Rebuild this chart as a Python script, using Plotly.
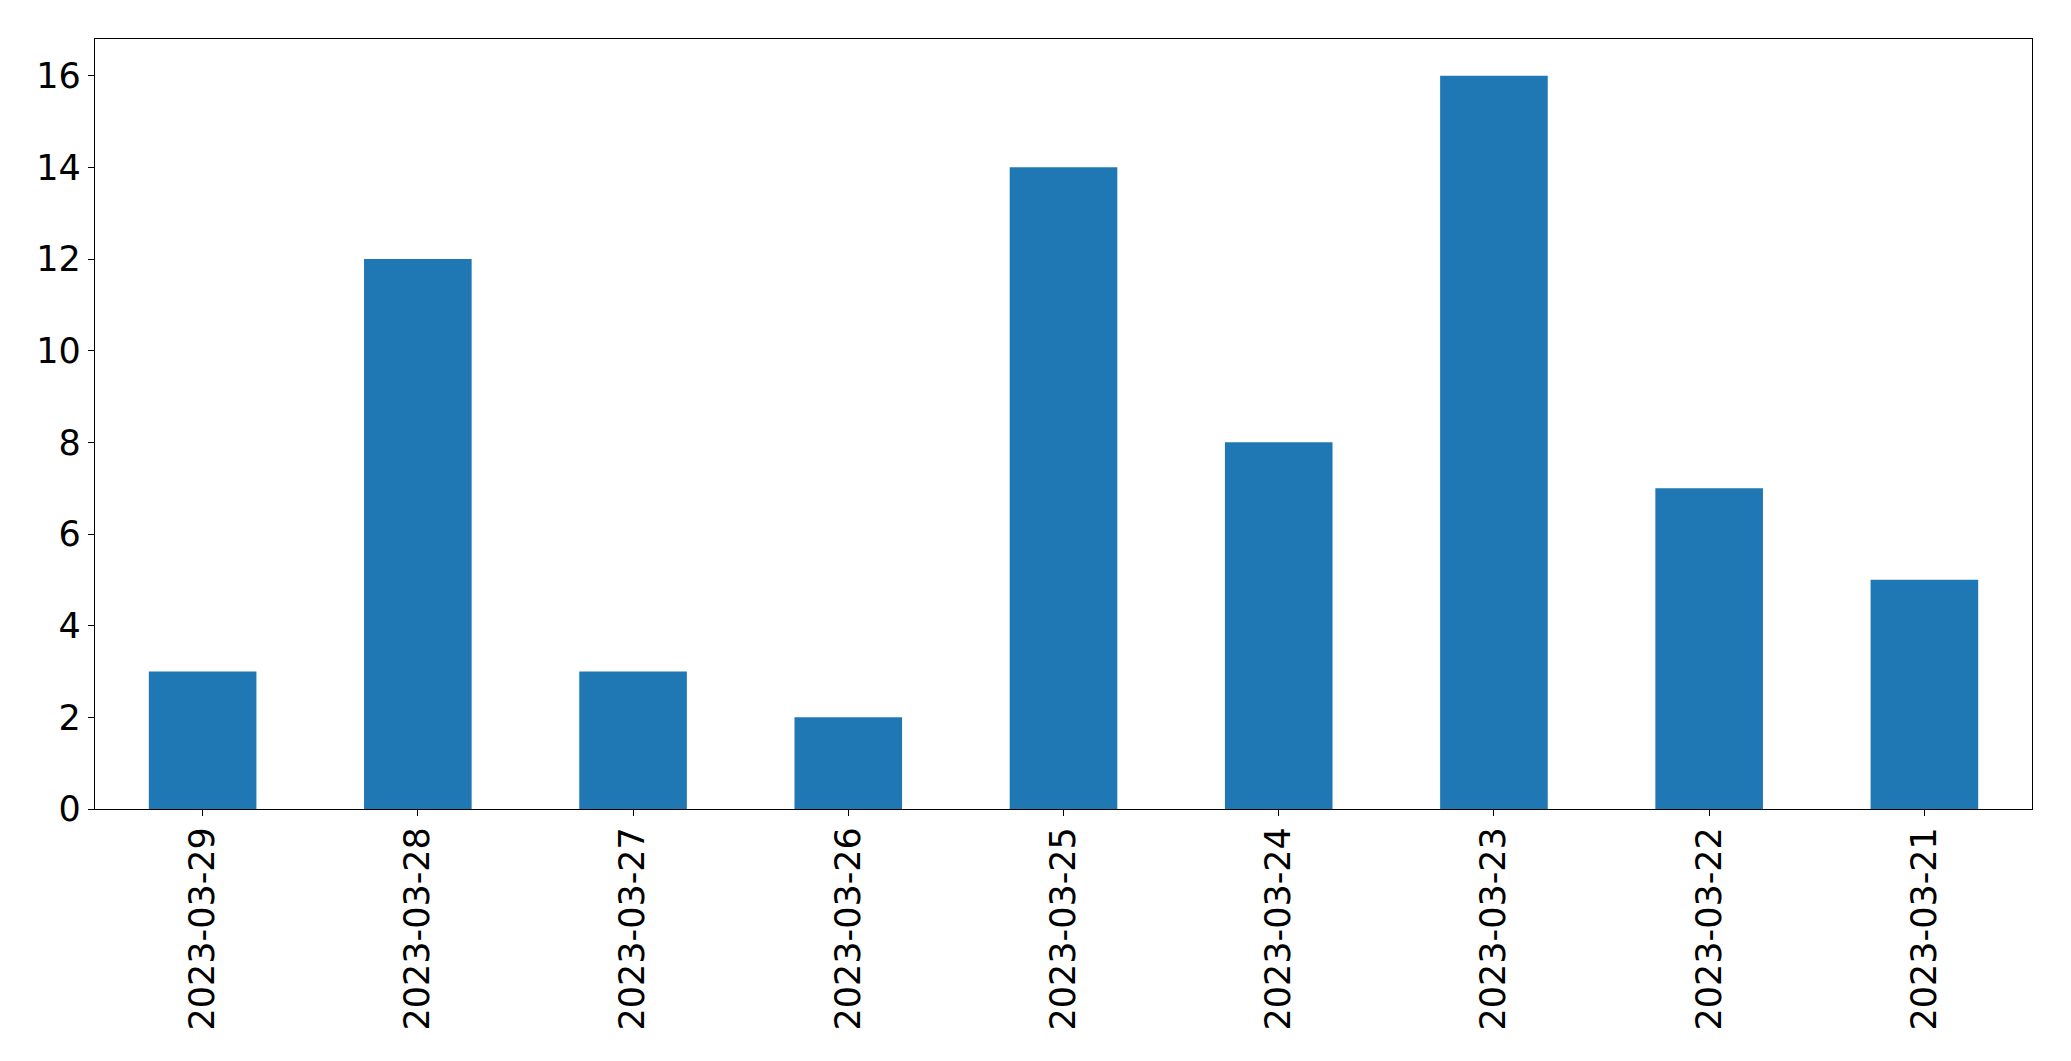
import plotly.graph_objects as go

dates = ["2023-03-29", "2023-03-28", "2023-03-27", "2023-03-26", "2023-03-25",
         "2023-03-24", "2023-03-23", "2023-03-22", "2023-03-21"]
counts = [3, 12, 3, 2, 14, 8, 16, 7, 5]
y_ticks = [0, 2, 4, 6, 8, 10, 12, 14, 16]

fig = go.Figure(go.Bar(x=dates, y=counts, marker_color="#1f77b4", width=0.5,
                       marker_line_width=0))

font = dict(family="DejaVu Sans", size=35, color="black")
fig.update_layout(
    width=2055, height=1045,
    margin=dict(l=87, r=31, t=31, b=244),
    plot_bgcolor="white", paper_bgcolor="white",
    showlegend=False, font=font,
)
fig.update_xaxes(type="category", range=[-0.5, 8.5], tickangle=-90,
                 showline=True, linecolor="black", linewidth=1.3, mirror=True,
                 ticks="outside", ticklen=6, tickcolor="black", showgrid=False,
                 tickfont=font, ticklabelstandoff=-3)
fig.update_yaxes(range=[0, 16.8], tickvals=y_ticks,
                 showline=True, linecolor="black", linewidth=1.3, mirror=True,
                 ticks="outside", ticklen=6, tickcolor="black", showgrid=False,
                 zeroline=False, tickfont=font)

fig.write_html("out.html")
